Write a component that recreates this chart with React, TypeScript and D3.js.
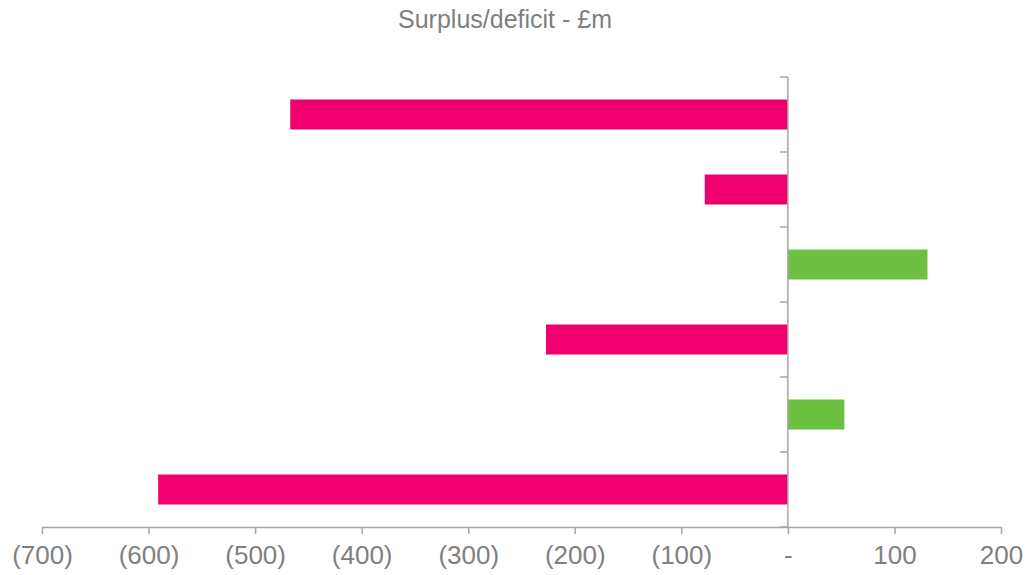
import React, { useRef, useEffect } from 'react';
import * as d3 from 'd3';

const categories = ['A', 'B', 'C', 'D', 'E', 'F'];
const values = [-467, -78, 131, -227, 53, -591];
const xTicks = [-700, -600, -500, -400, -300, -200, -100, 0, 100, 200];

const W = 1036;
const H = 575;
const margin = { top: 77, right: 35, bottom: 48, left: 42 };

const App = () => {
  const ref = useRef<SVGSVGElement | null>(null);

  useEffect(() => {
    if (!ref.current) return;
    const svg = d3.select(ref.current);
    svg.selectAll('*').remove();

    const x = d3
      .scaleLinear()
      .domain([-700, 200])
      .range([margin.left, W - margin.right]);

    const y = d3
      .scaleBand<string>()
      .domain(categories)
      .range([margin.top, H - margin.bottom])
      .paddingInner(0.6)
      .paddingOuter(0.3);

    const step = y.step();
    const font = '"Liberation Sans", Arial, sans-serif';
    const grey = '#a6a6a6';

    // title
    svg
      .append('text')
      .attr('x', 505)
      .attr('y', 28)
      .attr('text-anchor', 'middle')
      .attr('font-family', font)
      .attr('font-size', 25)
      .attr('fill', '#7f7f7f')
      .text('Surplus/deficit - £m');

    // bars
    svg
      .selectAll('.bar')
      .data(values)
      .enter()
      .append('rect')
      .attr('class', 'bar')
      .attr('x', (d) => x(Math.min(0, d)))
      .attr('width', (d) => Math.abs(x(d) - x(0)))
      .attr('y', (_, i) => y(categories[i]) ?? 0)
      .attr('height', y.bandwidth())
      .attr('fill', (d) => (d < 0 ? '#f0006e' : '#6dc140'));

    // x axis
    const xAxis = d3
      .axisBottom(x)
      .tickValues(xTicks)
      .tickSize(7)
      .tickSizeOuter(0)
      .tickPadding(12)
      .tickFormat((d) => {
        const v = d as number;
        if (v === 0) return '-';
        return v < 0 ? `(${Math.abs(v)})` : `${v}`;
      });

    const gx = svg
      .append('g')
      .attr('transform', `translate(0,${H - margin.bottom})`)
      .call(xAxis);
    gx.select('.domain').attr('stroke', grey).attr('stroke-width', 1.5);
    gx.selectAll('.tick line').attr('stroke', grey).attr('stroke-width', 1.5);
    gx.selectAll('.tick text')
      .attr('fill', '#808080')
      .attr('font-family', font)
      .attr('font-size', 26);

    // y axis (category boundaries)
    const boundaries = d3.range(categories.length + 1).map((i) => margin.top + i * step);
    const gy = svg.append('g');
    gy.append('line')
      .attr('x1', x(0))
      .attr('x2', x(0))
      .attr('y1', margin.top)
      .attr('y2', H - margin.bottom)
      .attr('stroke', grey)
      .attr('stroke-width', 1.5);
    gy.selectAll('.ytick')
      .data(boundaries)
      .enter()
      .append('line')
      .attr('class', 'ytick')
      .attr('x1', x(0) - 8)
      .attr('x2', x(0))
      .attr('y1', (d) => d)
      .attr('y2', (d) => d)
      .attr('stroke', grey)
      .attr('stroke-width', 1.5);
  }, []);

  return (
    <svg
      ref={ref}
      width={W}
      height={H}
      style={{ position: 'absolute', left: 0, top: 0, background: '#fff' }}
    />
  );
};

export default App;
